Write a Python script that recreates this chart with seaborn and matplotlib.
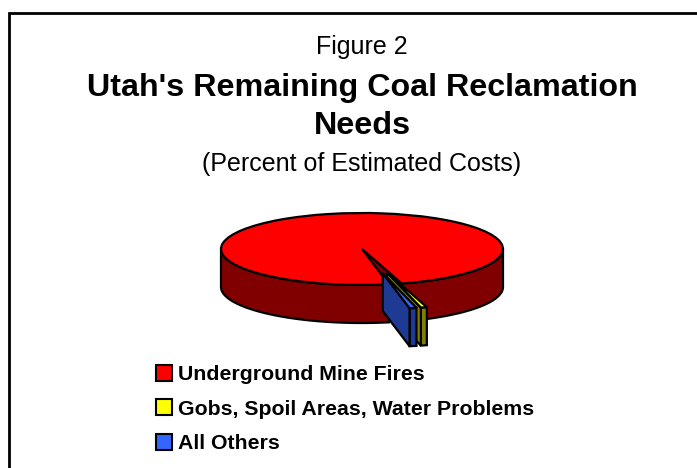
import numpy as np
import matplotlib
matplotlib.use("Agg")
import matplotlib.pyplot as plt
import seaborn as sns
from matplotlib.patches import Polygon, Rectangle, Patch

sns.set_theme(style="white")
plt.rcParams['font.family'] = ['Liberation Sans', 'DejaVu Sans']
plt.rcParams['text.color'] = 'black'

# ---- data ----
categories = ["Underground Mine Fires", "Gobs, Spoil Areas, Water Problems", "All Others"]
values = [98.5, 0.7, 0.8]
top_colors = ["#FF0000", "#FFFF00", "#3366FF"]
side_colors = ["#800000", "#808000", "#1F3A93"]
explode = [0.0, 0.68, 0.68]
title_lines = ["Figure 2", "Utah's Remaining Coal Reclamation", "Needs", "(Percent of Estimated Costs)"]

W, H = 697, 468
fig = plt.figure(figsize=(W / 100, H / 100), dpi=100)
ax = fig.add_axes([0, 0, 1, 1])

cx, cy = 362, 249      # pixel centre of top face
rx, ry = 141, 36       # pixel semi-axes
depth = 38 / ry        # depth in data units (y)

start = -79.0
fr = np.array(values) / np.sum(values)
bounds = []
a = start
for f in fr:
    bounds.append((a - 360 * f, a))
    a -= 360 * f

def offset(i):
    t1, t2 = bounds[i]
    mid = np.deg2rad((t1 + t2) / 2)
    return explode[i] * np.cos(mid), explode[i] * np.sin(mid)

def radial_face(i, t):
    ox, oy = offset(i)
    r = np.deg2rad(t)
    pts = [(ox, oy), (ox + np.cos(r), oy + np.sin(r)),
           (ox + np.cos(r), oy + np.sin(r) - depth), (ox, oy - depth)]
    ax.add_patch(Polygon(pts, closed=True, facecolor=side_colors[i],
                         edgecolor="black", lw=lw, zorder=2 + i))

lw = 1.6
for i in [0, 2, 1]:
    t1, t2 = bounds[i]
    ox, oy = offset(i)
    if i == 0:
        radial_face(0, t1)
    ts = np.linspace(t1, t2, 600)
    ts_r = np.deg2rad(ts)
    mask = np.sin(ts_r) <= 0.0001
    if mask.any():
        idx = np.where(mask)[0]
        runs = np.split(idx, np.where(np.diff(idx) != 1)[0] + 1)
        for run in runs:
            tt = ts_r[run]
            xs = ox + np.cos(tt)
            ys = oy + np.sin(tt)
            pts = np.concatenate([np.c_[xs, ys], np.c_[xs[::-1], ys[::-1] - depth]])
            ax.add_patch(Polygon(pts, closed=True, facecolor=side_colors[i],
                                 edgecolor="black", lw=lw, zorder=2 + i))
    if explode[i] > 0:
        radial_face(i, t1)

wedges, _ = ax.pie(values, colors=top_colors, startangle=start, counterclock=False,
                   explode=explode, radius=1.0,
                   wedgeprops=dict(edgecolor="black", linewidth=lw))
for i, w in enumerate(wedges):
    w.set_zorder(2 + i + 0.5)

ax.set_aspect('auto')
ax.set_xlim(-cx / rx, (W - cx) / rx)
ax.set_ylim((cy - H) / ry, cy / ry)
ax.axis('off')

# frame
fig.patches.append(Rectangle((9 / W, -0.1), 1.2, (H - 13) / H + 0.1, transform=fig.transFigure,
                             fill=False, edgecolor="black", lw=2))

fig.text(cx / W, 1 - 47 / H, title_lines[0], ha="center", va="center", fontsize=18)
fig.text(cx / W, 1 - 88 / H, title_lines[1], ha="center", va="center", fontsize=23.2, fontweight="bold")
fig.text(cx / W, 1 - 126 / H, title_lines[2], ha="center", va="center", fontsize=23.2, fontweight="bold")
fig.text(cx / W, 1 - 164 / H, title_lines[3], ha="center", va="center", fontsize=18)

handles = [Patch(facecolor=c, edgecolor="black", lw=1.5) for c in top_colors]
leg = fig.legend(handles, categories, loc="upper left", bbox_to_anchor=(156 / W, 1 - 365 / H),
                 frameon=False, prop=dict(size=15.3, weight="bold"),
                 handlelength=0.75, handleheight=0.75, handletextpad=0.3, labelspacing=0.72,
                 borderpad=0, borderaxespad=0)

fig.savefig("out.png", dpi=100)
